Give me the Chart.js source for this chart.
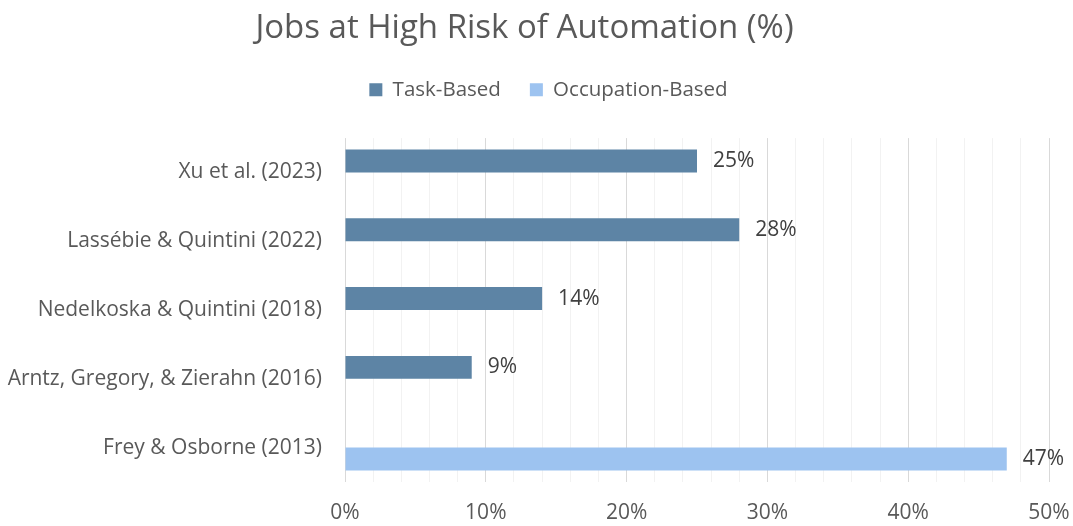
<!DOCTYPE html>
<html>
<head>
<meta charset="utf-8">
<script src="https://cdn.jsdelivr.net/npm/chart.js@4/dist/chart.umd.min.js"></script>
<style>
  html, body { margin: 0; padding: 0; background: #fff; }
  #wrap { width: 1073px; height: 526px; }
</style>
</head>
<body>
<div id="wrap"><canvas id="chart_jobs"></canvas></div>
<script>
const studies = [
  'Xu et al. (2023)',
  'Lassébie & Quintini (2022)',
  'Nedelkoska & Quintini (2018)',
  'Arntz, Gregory, & Zierahn (2016)',
  'Frey & Osborne (2013)'
];
const taskBased = [25, 28, 14, 9, null];
const occupationBased = [null, null, null, null, 47];

const FONT = 'Open Sans';
const GREY = '#595959';

// value labels to the right of each bar
const barLabels = {
  id: 'barLabels',
  afterDatasetsDraw(chart) {
    const ctx = chart.ctx;
    ctx.save();
    ctx.font = '21px "' + FONT + '"';
    ctx.fillStyle = '#404040';
    ctx.textAlign = 'left';
    ctx.textBaseline = 'middle';
    chart.data.datasets.forEach((ds, i) => {
      chart.getDatasetMeta(i).data.forEach((bar, j) => {
        if (ds.data[j] == null) return;
        ctx.fillText(ds.data[j] + '%', bar.x + 16, bar.y);
      });
    });
    ctx.restore();
  }
};

// extra room under the legend, and nudge it a bit to the right
const legendTweak = {
  id: 'legendTweak',
  beforeInit(chart) {
    const fit = chart.legend.fit;
    chart.legend.fit = function () {
      fit.call(this);
      this.height += 28;
    };
  },
  afterLayout(chart) {
    chart.legend.left += 24;
    chart.legend.right += 24;
  }
};

new Chart('chart_jobs', {
  type: 'bar',
  data: {
    labels: studies,
    datasets: [
      { label: 'Task-Based', data: taskBased, backgroundColor: '#5D84A5' },
      { label: 'Occupation-Based', data: occupationBased, backgroundColor: '#9DC3F0' }
    ]
  },
  options: {
    indexAxis: 'y',
    responsive: true,
    maintainAspectRatio: false,
    animation: false,
    categoryPercentage: 2 / 3,
    barPercentage: 1,
    layout: { padding: { left: 0, right: 24, top: 0, bottom: 0 } },
    plugins: {
      title: {
        display: true,
        text: 'Jobs at High Risk of Automation (%)',
        color: GREY,
        font: { family: FONT, size: 33, weight: 'normal' },
        padding: { top: 9, bottom: 2 }
      },
      legend: {
        position: 'top',
        labels: {
          color: GREY,
          font: { family: FONT, size: 20.5 },
          boxWidth: 13,
          boxHeight: 13,
          padding: 29
        }
      },
      tooltip: { enabled: false }
    },
    scales: {
      x: {
        min: 0,
        max: 50,
        ticks: {
          stepSize: 2,
          autoSkip: false,
          maxRotation: 0,
          color: GREY,
          font: { family: FONT, size: 21 },
          padding: 18,
          callback: v => (v % 10 === 0 ? v + '%' : '')
        },
        grid: {
          drawTicks: false,
          color: c => (c.tick && c.tick.value % 10 === 0 ? '#d9d9d9' : '#f2f2f2'),
          lineWidth: 1
        },
        border: { display: false },
        afterFit: s => {
          s.height = 44;
          s.paddingLeft = 0;
          s.paddingRight = 0;
        }
      },
      y: {
        ticks: {
          color: GREY,
          font: { family: FONT, size: 21 },
          padding: 23
        },
        grid: { display: false, drawTicks: false },
        border: { display: false },
        afterFit: s => { s.width = 345; }
      }
    }
  },
  plugins: [barLabels, legendTweak]
});
</script>
</body>
</html>
